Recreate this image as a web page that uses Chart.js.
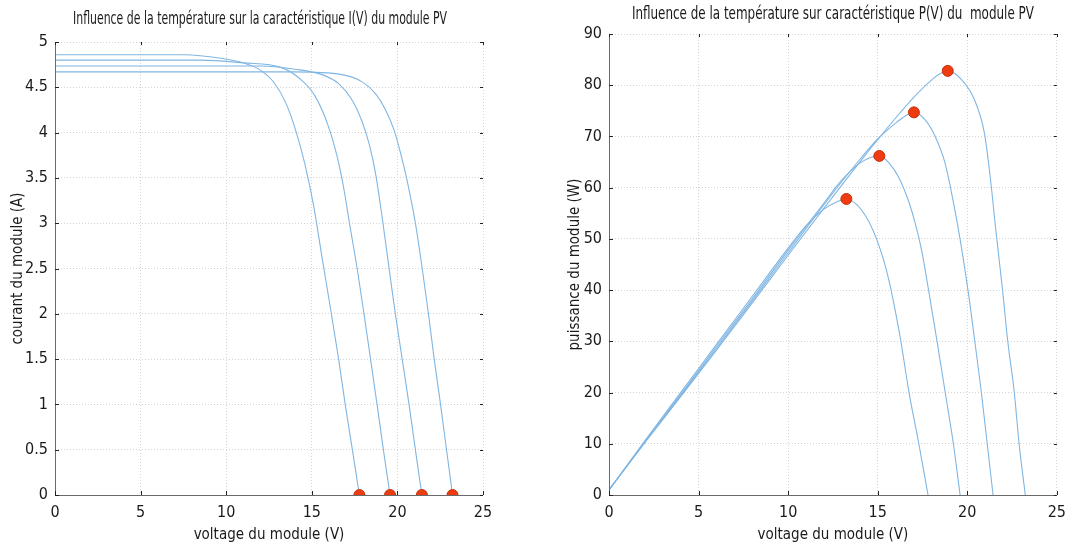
<!DOCTYPE html>
<html lang="fr">
<head>
<meta charset="utf-8">
<title>Influence de la température - module PV</title>
<script src="https://cdn.jsdelivr.net/npm/chart.js@4.4.1/dist/chart.umd.min.js"></script>
<style>
html, body { margin: 0; padding: 0; background: #fff; }
#wrap { position: relative; width: 1074px; height: 548px; overflow: hidden; }
.box { position: absolute; top: 0; height: 548px; }
#left { left: 0; width: 540px; }
#right { left: 540px; width: 534px; }
</style>
</head>
<body>
<div id="wrap">
  <div class="box" id="left"><canvas id="iv-chart" width="540" height="548"></canvas></div>
  <div class="box" id="right"><canvas id="pv-chart" width="534" height="548"></canvas></div>
</div>
<script>
// Courbes I(V) (4 températures)
const ivVolt1 = [0, 7.6, 9.7, 11.0, 12.0, 12.8, 13.5, 14.1, 14.6, 15.1, 15.6, 16.1, 16.55, 16.96, 17.37, 17.78];
const ivCur1  = [4.86, 4.86, 4.82, 4.77, 4.69, 4.55, 4.32, 4.00, 3.65, 3.20, 2.62, 2.05, 1.52, 0.99, 0.5, 0];
const ivVolt2 = [0, 8.5, 11, 13.2, 14.4, 15.2, 15.95, 16.5, 16.9, 17.2, 17.65, 18.05, 18.43, 18.82, 19.18, 19.57];
const ivCur2  = [4.80, 4.80, 4.77, 4.72, 4.58, 4.40, 4.08, 3.72, 3.35, 3.0, 2.5, 2.0, 1.5, 0.99, 0.5, 0];
const ivVolt3 = [0, 12, 14, 15.6, 16.57, 17.35, 17.94, 18.4, 18.75, 19.12, 19.5, 19.88, 20.28, 20.68, 21.05, 21.43];
const ivCur3  = [4.735, 4.735, 4.70, 4.64, 4.54, 4.36, 4.12, 3.84, 3.52, 3.05, 2.52, 2.0, 1.5, 1.0, 0.5, 0];
const ivVolt4 = [0, 14, 16.76, 17.94, 18.72, 19.31, 19.8, 20.19, 20.59, 21.05, 21.45, 21.8, 22.15, 22.52, 22.87, 23.22];
const ivCur4  = [4.67, 4.67, 4.64, 4.56, 4.43, 4.25, 4.03, 3.77, 3.45, 3.0, 2.5, 2.02, 1.5, 1.0, 0.5, 0];
const vocList = [17.78, 19.57, 21.43, 23.22];

// Courbes P(V)
const pvVolt1 = [0, 2, 4, 6, 8, 10, 11, 12, 12.7, 13.25, 13.8, 14.3, 14.75, 15.1, 15.45, 15.73, 16.0, 16.28, 16.74, 17.29, 17.81];
const pvPow1  = [1, 10.6, 20.0, 29.4, 38.8, 48.2, 52.6, 55.8, 57.2, 57.8, 56.8, 54.6, 51.6, 48.4, 44.4, 40.3, 35.6, 30.3, 20.2, 10.1, 0];
const pvVolt2 = [0, 2, 4, 6, 8, 10, 12, 13, 14, 14.6, 15.09, 15.64, 16.19, 16.74, 17.1, 17.45, 17.84, 18.3, 18.76, 19.22, 19.6];
const pvPow2  = [1, 10.4, 19.6, 29.0, 38.3, 47.8, 57.0, 61.5, 64.8, 65.9, 66.2, 64.8, 61.9, 57.2, 53.0, 47.8, 40.0, 30.3, 20.2, 10.1, 0];
const pvVolt3 = [0, 2, 4, 6, 8, 10, 12, 14, 15, 16, 16.5, 17.02, 17.66, 18.21, 18.76, 19.2, 19.59, 20.04, 20.41, 20.78, 21.11, 21.44];
const pvPow3  = [1, 10.3, 19.4, 28.6, 37.9, 47.3, 56.7, 65.5, 69.5, 72.6, 73.9, 74.7, 73.2, 70.0, 64.8, 57.6, 50.1, 40.0, 30.3, 20.2, 10.1, 0];
const pvVolt4 = [0, 2, 4, 6, 8, 10, 12, 14, 16, 17, 18, 18.5, 18.91, 19.68, 20.41, 20.96, 21.3, 21.6, 21.97, 22.25, 22.62, 22.89, 23.24];
const pvPow4  = [1, 10.2, 19.2, 28.3, 37.5, 46.8, 56.0, 65.0, 73.6, 77.6, 81.0, 82.3, 82.8, 81.1, 77.1, 70.6, 61.5, 51.5, 40.0, 30.3, 20.2, 10.1, 0];
const mppVolt = [13.25, 15.09, 17.02, 18.91];
const mppPow  = [57.8, 66.2, 74.7, 82.8];

const FONT = "'Liberation Sans Narrow', 'DejaVu Sans Condensed', 'Liberation Sans', Arial, sans-serif";
const TEXT_COLOR = '#1a1a1a';
const LINE_COLOR = '#80b6e2';
const DOT_FILL = '#ee3c10';
const DOT_BORDER = '#c4320c';

function toPoints(xs, ys) {
    return xs.map((x, i) => ({ x: x, y: ys[i] }));
}

function curve(xs, ys) {
    return {
        data: toPoints(xs, ys),
        showLine: true,
        borderColor: LINE_COLOR,
        borderWidth: 1.1,
        pointRadius: 0,
        cubicInterpolationMode: 'monotone',
        order: 2
    };
}

function dots(xs, ys) {
    return {
        data: toPoints(xs, ys),
        showLine: false,
        pointRadius: 5.5,
        backgroundColor: DOT_FILL,
        borderColor: DOT_BORDER,
        borderWidth: 1,
        order: 1
    };
}

// Titre dessiné à la main (police étroite simulée avec maxWidth)
const chartTitle = {
    id: 'chartTitle',
    afterDraw(chart, args, opts) {
        const { ctx, chartArea: a } = chart;
        ctx.save();
        ctx.font = '17px ' + FONT;
        ctx.fillStyle = TEXT_COLOR;
        ctx.textAlign = 'center';
        ctx.textBaseline = 'middle';
        ctx.fillText(opts.text, (a.left + a.right) / 2 + opts.dx, opts.y, opts.maxWidth);
        ctx.restore();
    }
};

// Petites graduations vers l'intérieur sur les 4 côtés (style MATLAB)
const innerTicks = {
    id: 'innerTicks',
    afterDatasetsDraw(chart) {
        const { ctx, chartArea: a, scales: { x, y } } = chart;
        ctx.save();
        ctx.strokeStyle = '#6a6a6a';
        ctx.lineWidth = 1;
        ctx.beginPath();
        ctx.moveTo(a.left + 0.5, a.top);
        ctx.lineTo(a.left + 0.5, a.bottom + 0.5);
        ctx.lineTo(a.right, a.bottom + 0.5);
        ctx.stroke();
        ctx.strokeStyle = '#222';
        ctx.beginPath();
        x.ticks.forEach(t => {
            const px = Math.round(x.getPixelForValue(t.value)) + 0.5;
            ctx.moveTo(px, a.bottom); ctx.lineTo(px, a.bottom - 4);
            ctx.moveTo(px, a.top); ctx.lineTo(px, a.top + 3);
        });
        y.ticks.forEach(t => {
            const py = Math.round(y.getPixelForValue(t.value)) + 0.5;
            ctx.moveTo(a.left, py); ctx.lineTo(a.left + 4, py);
            ctx.moveTo(a.right, py); ctx.lineTo(a.right - 3, py);
        });
        ctx.stroke();
        ctx.restore();
    }
};

function buildOptions(cfg) {
    return {
        responsive: false,
        animation: false,
        layout: { padding: { top: cfg.padTop, right: cfg.padRight } },
        plugins: {
            legend: { display: false },
            tooltip: { enabled: false },
            title: { display: false },
            chartTitle: { text: cfg.title, dx: cfg.titleDx, y: cfg.titleY, maxWidth: cfg.titleWidth }
        },
        scales: {
            x: {
                type: 'linear',
                min: 0, max: 25,
                grid: { color: '#d4d4d4', lineWidth: 1, drawTicks: false },
                border: { display: false, dash: [1, 2] },
                ticks: { stepSize: 5, padding: 8, color: TEXT_COLOR, font: { family: FONT, size: 16 } },
                title: {
                    display: true,
                    text: 'voltage du module (V)',
                    color: TEXT_COLOR,
                    font: { family: FONT, size: 15 },
                    padding: { top: 4, bottom: 4 }
                },
                afterFit: scale => { scale.height = 53; }
            },
            y: {
                type: 'linear',
                min: 0, max: cfg.yMax,
                grid: { color: '#d4d4d4', lineWidth: 1, drawTicks: false },
                border: { display: false, dash: [1, 2] },
                ticks: {
                    stepSize: cfg.yStep,
                    padding: 7,
                    color: TEXT_COLOR,
                    font: { family: FONT, size: 16 },
                    callback: v => String(Number(v.toFixed(2)))
                },
                title: {
                    display: true,
                    text: cfg.yTitle,
                    color: TEXT_COLOR,
                    font: { family: FONT, size: 15 },
                    padding: { top: cfg.yTitlePad, bottom: 4 }
                },
                afterFit: scale => { scale.width = cfg.yWidth; }
            }
        }
    };
}

new Chart(document.getElementById('iv-chart'), {
    type: 'scatter',
    data: {
        datasets: [
            curve(ivVolt1, ivCur1),
            curve(ivVolt2, ivCur2),
            curve(ivVolt3, ivCur3),
            curve(ivVolt4, ivCur4),
            dots(vocList, [0, 0, 0, 0])
        ]
    },
    options: buildOptions({
        title: 'Influence de la température sur la caractéristique I(V) du module PV',
        titleDx: -9, titleY: 20, titleWidth: 374, padTop: 42,
        yMax: 5, yStep: 0.5,
        yTitle: 'courant du module (A)', yTitlePad: 9,
        yWidth: 55, padRight: 57
    }),
    plugins: [innerTicks, chartTitle]
});

new Chart(document.getElementById('pv-chart'), {
    type: 'scatter',
    data: {
        datasets: [
            curve(pvVolt1, pvPow1),
            curve(pvVolt2, pvPow2),
            curve(pvVolt3, pvPow3),
            curve(pvVolt4, pvPow4),
            dots(mppVolt, mppPow)
        ]
    },
    options: buildOptions({
        title: 'Influence de la température sur caractéristique P(V) du  module PV',
        titleDx: 0, titleY: 15, titleWidth: 402, padTop: 34,
        yMax: 90, yStep: 10,
        yTitle: 'puissance du module (W)', yTitlePad: 26,
        yWidth: 69, padRight: 11
    }),
    plugins: [innerTicks, chartTitle]
});
</script>
</body>
</html>
